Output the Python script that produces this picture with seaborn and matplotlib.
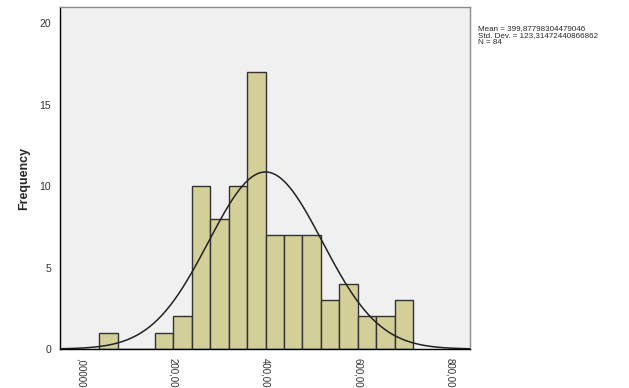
import matplotlib
matplotlib.use("Agg")
import matplotlib.pyplot as plt
import seaborn as sns
import numpy as np

# bin edges (width 40) and frequency
bin_edges = [40, 80, 120, 160, 200, 240, 280, 320, 360, 400, 440, 480, 520, 560, 600, 640, 680, 720]
bin_counts = [1, 0, 0, 1, 2, 10, 8, 10, 17, 7, 7, 7, 3, 4, 2, 2, 3]

mean_val = 399.87798304479046
std_val = 123.31472440866862
n_obs = 84

x_ticks = [0, 200, 400, 600, 800]
x_tick_labels = [",00000", "200,00", "400,00", "600,00", "800,00"]
y_ticks = [0, 5, 10, 15, 20]

sns.set_style("white")
plt.rcParams['font.family'] = ['Liberation Sans', 'DejaVu Sans']

fig = plt.figure(figsize=(6.29, 3.88), dpi=100)
ax = fig.add_axes([0.0954, 0.1005, 0.6516, 0.8815])
ax.set_facecolor("#f0f0f0")

centers = [(a + b) / 2 for a, b in zip(bin_edges[:-1], bin_edges[1:])]
sns.histplot(x=centers, weights=bin_counts, bins=bin_edges, ax=ax,
             color="#d3cf98", edgecolor="#333333", linewidth=1.0, alpha=1.0)

# normal curve scaled to counts
width = bin_edges[1] - bin_edges[0]
xs = np.linspace(-45, 845, 400)
ys = n_obs * width / (std_val * np.sqrt(2 * np.pi)) * np.exp(-0.5 * ((xs - mean_val) / std_val) ** 2)
sns.lineplot(x=xs, y=ys, ax=ax, color="#222222", linewidth=1.1)

ax.set_xlim(-45.5, 843)
ax.set_ylim(0, 21)
ax.set_xticks(x_ticks)
ax.set_xticklabels(x_tick_labels, rotation=270, fontsize=7)
ax.set_yticks(y_ticks)
ax.set_yticklabels([str(v) for v in y_ticks], fontsize=7.5)
ax.tick_params(axis='both', direction='out', length=5, width=1, color="black", pad=1.5,
               labelcolor="#333333")
ax.set_xlabel("")
ax.set_ylabel("Frequency", fontsize=9, fontweight='bold', labelpad=7)

for side in ['left', 'bottom']:
    ax.spines[side].set_color("black")
    ax.spines[side].set_linewidth(1.0)
for side in ['top', 'right']:
    ax.spines[side].set_color("#8a8a8a")
    ax.spines[side].set_linewidth(1.0)

fig.text(0.760, 0.935, "Mean = 399,87798304479046\nStd. Dev. = 123,31472440866862\nN = 84",
         fontsize=5.8, va='top', ha='left', linespacing=1.0)

fig.savefig("out.png", dpi=100)
